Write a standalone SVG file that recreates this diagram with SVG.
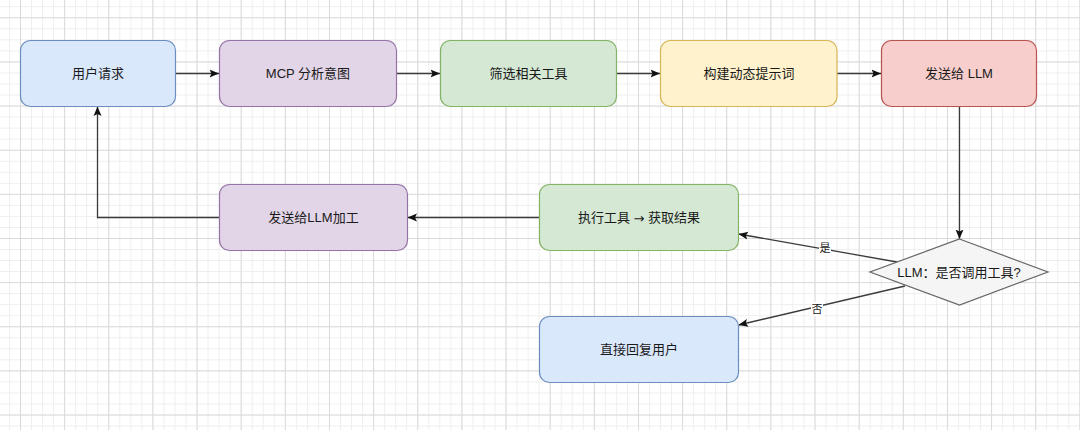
<svg xmlns="http://www.w3.org/2000/svg" width="1080" height="430" viewBox="0 0 1080 430">
  <defs>
    <pattern id="minor" patternUnits="userSpaceOnUse" x="20" y="17.3" width="11.035" height="11.035">
      <path d="M0.5,0 V11.035 M0,0.5 H11.035" stroke="#eeeeee" stroke-width="1" fill="none"/>
    </pattern>
    <pattern id="major" patternUnits="userSpaceOnUse" x="20" y="17.3" width="44.14" height="44.14">
      <path d="M0.5,0 V44.14 M0,0.5 H44.14" stroke="#dadada" stroke-width="1" fill="none"/>
    </pattern>
    <marker id="arr" markerUnits="userSpaceOnUse" markerWidth="10" markerHeight="9" refX="9.5" refY="4.5" orient="auto">
      <path d="M0,0.5 L9.5,4.5 L0,8.5 L2,4.5 Z" fill="#111"/>
    </marker>
  </defs>
  <style>
    .box { stroke-width: 1.2; }
    .t { font-family: "Liberation Sans", "Noto Sans CJK SC", sans-serif; font-size: 13px; fill: #1a1a1a; text-anchor: middle; dominant-baseline: central; }
    .ar { font-family: "DejaVu Sans", sans-serif; }
    .lbl { font-family: "Liberation Sans", "Noto Sans CJK SC", sans-serif; font-size: 11px; fill: #1a1a1a; text-anchor: middle; dominant-baseline: central; }
    .edge { stroke: #3a3a3a; stroke-width: 1.3; fill: none; marker-end: url(#arr); }
    .blue { fill: #dae8fc; stroke: #6c8ebf; }
    .purple { fill: #e1d5e7; stroke: #9673a6; }
    .green { fill: #d5e8d4; stroke: #82b366; }
    .yellow { fill: #fff2cc; stroke: #d6b656; }
    .red { fill: #f8cecc; stroke: #b85450; }
    .gray { fill: #f5f5f5; stroke: #666666; }
  </style>
  <rect width="1080" height="430" fill="#ffffff"/>
  <rect width="1080" height="430" fill="url(#minor)"/>
  <rect width="1080" height="430" fill="url(#major)"/>

  <g id="connectors">
    <path class="edge" d="M175.5,73.5 H219"/>
    <path class="edge" d="M396.5,73.5 H440"/>
    <path class="edge" d="M616,73.5 H660"/>
    <path class="edge" d="M837,73.5 H881"/>
    <path class="edge" d="M959.5,106.5 V239"/>
    <path class="edge" d="M539,217.5 H407.5"/>
    <path class="edge" d="M219,217.5 H97.5 V106.5"/>
    <path class="edge" d="M897,262 L738.5,234"/>
    <path class="edge" d="M905,286 L738.5,325"/>
    <rect x="819" y="241" width="12" height="14" fill="#ffffff"/>
    <text class="lbl" x="825" y="248">是</text>
    <rect x="811" y="302" width="12" height="14" fill="#ffffff"/>
    <text class="lbl" x="817" y="309">否</text>
  </g>

  <g id="node-user-request">
    <rect class="box blue" x="20.5" y="40.5" width="155" height="66" rx="10"/>
    <text class="t" x="98" y="73.5">用户请求</text>
  </g>
  <g id="node-mcp">
    <rect class="box purple" x="219.5" y="40.5" width="177" height="66" rx="10"/>
    <text class="t" x="308" y="73.5">MCP 分析意图</text>
  </g>
  <g id="node-filter">
    <rect class="box green" x="440.5" y="40.5" width="176" height="66" rx="10"/>
    <text class="t" x="528.5" y="73.5">筛选相关工具</text>
  </g>
  <g id="node-prompt">
    <rect class="box yellow" x="660.5" y="40.5" width="176.5" height="66" rx="10"/>
    <text class="t" x="749" y="73.5">构建动态提示词</text>
  </g>
  <g id="node-send-llm">
    <rect class="box red" x="881.5" y="40.5" width="155" height="66" rx="10"/>
    <text class="t" x="959" y="73.5">发送给 LLM</text>
  </g>
  <g id="node-decision">
    <polygon class="box gray" points="959.5,239 1048,272 959.5,305 870,272"/>
    <text class="t" x="959" y="272">LLM：是否调用工具?</text>
  </g>
  <g id="node-exec">
    <rect class="box green" x="539.5" y="184.5" width="199" height="66" rx="10"/>
    <text class="t" x="639" y="217.5">执行工具 <tspan class="ar">→</tspan> 获取结果</text>
  </g>
  <g id="node-llm-process">
    <rect class="box purple" x="219.5" y="184.5" width="188" height="66" rx="10"/>
    <text class="t" x="313.5" y="217.5">发送给LLM加工</text>
  </g>
  <g id="node-reply">
    <rect class="box blue" x="539.5" y="316.5" width="199" height="66" rx="10"/>
    <text class="t" x="639" y="349.5">直接回复用户</text>
  </g>
</svg>
